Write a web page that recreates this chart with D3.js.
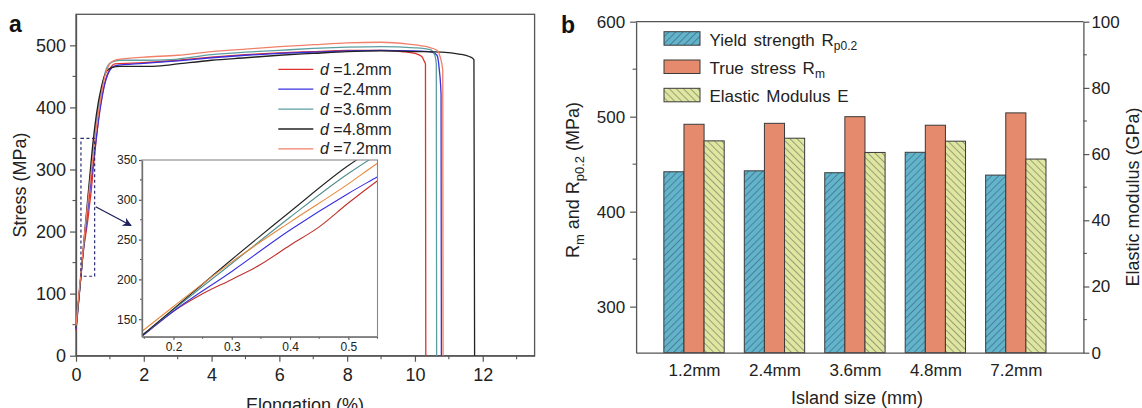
<!DOCTYPE html>
<html>
<head>
<meta charset="utf-8">
<script src="https://cdn.jsdelivr.net/npm/d3@7"></script>
<style>
  body { margin: 0; background: #fff; }
  svg { display: block; font-family: "Liberation Sans", Arial, sans-serif; }
</style>
</head>
<body>
<div id="chart"></div>
<script>
// stress-strain curves, [elongation %, stress MPa]
var sizes = ["1.2", "2.4", "3.6", "4.8", "7.2"];
var curve12 = [[0,40],[0.15,131],[0.2,160],[0.25,182],[0.3,200],[0.35,219],[0.4,243],[0.45,266],[0.5,296],[0.55,324],[0.7,395],[0.85,440],[1.0,462],[1.15,470],[2,472],[3,476],[4,481],[5,485],[6,488],[7,490],[8,492],[9,492],[9.6,490],[10.0,487],[10.2,482],[10.27,475],[10.31,470],[10.32,0]];
var curve24 = [[0,42],[0.15,131],[0.2,160],[0.3,210],[0.4,262],[0.5,308],[0.55,329],[0.7,393],[0.85,438],[1.0,460],[1.15,467],[2,471],[3,475],[4,480],[5,484],[6,487],[7,489],[8,491],[9,492],[10,491],[10.5,489],[10.65,484],[10.72,460],[10.77,420],[10.78,0]];
var curve36 = [[0,45],[0.15,132],[0.2,162],[0.3,220],[0.4,278],[0.5,333],[0.6,378],[0.75,428],[0.9,463],[1.05,473],[1.3,476],[2,476],[2.8,477],[4,485],[5,489],[6,492],[7,495],[8,497],[9,498],[10,496],[10.45,493],[10.58,485],[10.63,470],[10.64,0]];
var curve48 = [[0,45],[0.15,132],[0.2,163],[0.3,225],[0.4,285],[0.5,343],[0.6,388],[0.75,433],[0.9,458],[1.05,464],[1.3,466],[2,466],[2.5,467],[3,470],[4,476],[5,480],[6,484],[7,487],[8,490],[9,491],[10,490],[10.8,489],[11.3,486],[11.6,482],[11.74,477],[11.76,0]];
var curve72 = [[0,48],[0.15,137],[0.2,166],[0.3,222],[0.4,272],[0.5,320],[0.55,346],[0.7,405],[0.85,450],[1.0,470],[1.2,477],[2,481],[3,484],[4,490],[5,494],[6,498],[7,501],[8,504],[9,505],[9.8,502],[10.4,497],[10.65,492],[10.75,480],[10.82,460],[10.83,0]];
var curves = [curve12, curve24, curve36, curve48, curve72];
var curveColors = ["#e0322c", "#3a30e0", "#5c9fa0", "#222222", "#f0806a"];
var insetColors = ["#c0312c", "#3a30e0", "#4f8f90", "#222222", "#e8883a"];

var stressTicks = [0, 100, 200, 300, 400, 500];
var elongTicks = [0, 2, 4, 6, 8, 10, 12];
var insetYTicks = [150, 200, 250, 300, 350];
var insetXTicks = [0.2, 0.3, 0.4, 0.5];

// panel b
var islands = ["1.2mm", "2.4mm", "3.6mm", "4.8mm", "7.2mm"];
var yieldStrength = [442, 443, 441, 462.5, 438.5];
var trueStress = [492, 493, 500, 491, 504];
var elasticModulus = [64.0, 64.8, 60.5, 63.9, 58.5];
var mpaTicks = [300, 400, 500, 600];
var gpaTicks = [0, 20, 40, 60, 80, 100];

((() => {
  var svg = d3.select("#chart").append("svg")
    .attr("width", 1142)
    .attr("height", 408);

  var axisColor = "#555";

  // hatch patterns
  var defs = svg.append("defs");
  function hatch(id, fill, angle) {
    var p = defs.append("pattern")
      .attr("id", id)
      .attr("patternUnits", "userSpaceOnUse")
      .attr("width", 5).attr("height", 5)
      .attr("patternTransform", "rotate(" + angle + ")");
    p.append("rect").attr("width", 5).attr("height", 5).attr("fill", fill);
    p.append("line").attr("x1", 0).attr("y1", 0).attr("x2", 0).attr("y2", 5)
      .attr("stroke", "#2b3438").attr("stroke-width", 0.8);
  }
  hatch("hatchBlue", "#62b4cd", 45);
  hatch("hatchYellow", "#dfe6a0", -45);

  function styleAxis(g, size) {
    g.selectAll("path").attr("stroke", axisColor).attr("stroke-width", 1.3);
    g.selectAll("line").attr("stroke", axisColor).attr("stroke-width", 1.2);
    g.selectAll("text").attr("font-size", size).attr("fill", "#222")
      .attr("font-family", "Liberation Sans, Arial, sans-serif");
  }
  function minor(g, vals, scale, horizontal, len) {
    g.selectAll(null).data(vals).enter().append("line")
      .attr("x1", d => horizontal ? scale(d) : 0)
      .attr("x2", d => horizontal ? scale(d) : len)
      .attr("y1", d => horizontal ? 0 : scale(d))
      .attr("y2", d => horizontal ? len : scale(d))
      .attr("stroke", axisColor).attr("stroke-width", 1.1);
  }

  // ---------- panel a ----------
  var xA = d3.scaleLinear().domain([0, 13.53]).range([76, 534.6]);
  var yA = d3.scaleLinear().domain([0, 550]).range([355.7, 14.3]);

  var gx = svg.append("g").attr("transform", "translate(0," + yA(0) + ")")
    .call(d3.axisBottom(xA).tickValues(elongTicks).tickSize(6).tickPadding(7).tickSizeOuter(0));
  styleAxis(gx, 18);
  minor(gx, [1, 3, 5, 7, 9, 11, 13], xA, true, 3.5);

  var gy = svg.append("g").attr("transform", "translate(" + xA(0) + ",0)")
    .call(d3.axisLeft(yA).tickValues(stressTicks).tickSize(6).tickPadding(4).tickSizeOuter(0));
  styleAxis(gy, 18);
  minor(gy, [50, 150, 250, 350, 450], yA, false, -3.5);

  svg.append("rect")
    .attr("x", xA(0)).attr("y", yA(550))
    .attr("width", xA(13.53) - xA(0)).attr("height", yA(0) - yA(550))
    .attr("fill", "none").attr("stroke", axisColor).attr("stroke-width", 1.3);

  var lineA = d3.line().x(d => xA(d[0])).y(d => yA(d[1])).curve(d3.curveMonotoneX);
  svg.append("g").selectAll("path").data(curves).enter().append("path")
    .attr("d", lineA)
    .attr("fill", "none")
    .attr("stroke", (d, i) => curveColors[i])
    .attr("stroke-width", 1.3);

  // legend a
  var legA = svg.append("g");
  sizes.forEach(function(s, i) {
    var y = 69.3 + i * 19.9;
    legA.append("line").attr("x1", 278.3).attr("x2", 313.3).attr("y1", y).attr("y2", y)
      .attr("stroke", curveColors[i]).attr("stroke-width", 1.3);
    var t = legA.append("text").attr("x", 320).attr("y", y + 5.5)
      .attr("font-size", 16).attr("fill", "#222");
    t.append("tspan").attr("font-style", "italic").text("d");
    t.append("tspan").text(" =" + s + "mm");
  });

  // inset
  var xI = d3.scaleLinear().domain([0.146, 0.55]).range([142, 377.5]);
  var yI = d3.scaleLinear().domain([128, 350]).range([336.7, 160]);

  // dashed box on main plot
  svg.append("rect")
    .attr("x", xA(0.146)).attr("y", yA(350))
    .attr("width", xA(0.55) - xA(0.146)).attr("height", yA(128) - yA(350))
    .attr("fill", "none").attr("stroke", "#2c2c70").attr("stroke-width", 1.2)
    .attr("stroke-dasharray", "3,2.5");

  // arrow
  defs.append("marker").attr("id", "arrow")
    .attr("viewBox", "0 0 10 10").attr("refX", 9).attr("refY", 5)
    .attr("markerWidth", 9).attr("markerHeight", 9).attr("markerUnits", "userSpaceOnUse")
    .attr("orient", "auto")
    .append("path").attr("d", "M0,0 L10,5 L0,10 L3,5 Z").attr("fill", "#1c2258");
  svg.append("line")
    .attr("x1", xA(0.55) + 1).attr("y1", yA(240))
    .attr("x2", 131).attr("y2", 225.5)
    .attr("stroke", "#1c2258").attr("stroke-width", 1.3)
    .attr("marker-end", "url(#arrow)");

  svg.append("rect")
    .attr("x", xI.range()[0]).attr("y", yI.range()[1])
    .attr("width", xI.range()[1] - xI.range()[0]).attr("height", yI.range()[0] - yI.range()[1])
    .attr("fill", "#fff");

  defs.append("clipPath").attr("id", "insetClip").append("rect")
    .attr("x", xI.range()[0]).attr("y", yI.range()[1])
    .attr("width", xI.range()[1] - xI.range()[0]).attr("height", yI.range()[0] - yI.range()[1]);

  var lineI = d3.line().x(d => xI(d[0])).y(d => yI(d[1])).curve(d3.curveMonotoneX);
  svg.append("g").attr("clip-path", "url(#insetClip)")
    .selectAll("path").data(curves).enter().append("path")
    .attr("d", d => lineI(d.filter(p => p[0] <= 0.75)))
    .attr("fill", "none")
    .attr("stroke", (d, i) => insetColors[i])
    .attr("stroke-width", 1.1);

  var gix = svg.append("g").attr("transform", "translate(0," + yI.range()[0] + ")")
    .call(d3.axisBottom(xI).tickValues(insetXTicks).tickFormat(d3.format(".1f")).tickSize(3).tickPadding(3).tickSizeOuter(0));
  styleAxis(gix, 12);
  minor(gix, [0.15, 0.25, 0.35, 0.45, 0.55], xI, true, 2);
  var giy = svg.append("g").attr("transform", "translate(" + xI.range()[0] + ",0)")
    .call(d3.axisLeft(yI).tickValues(insetYTicks).tickSize(3).tickPadding(2).tickSizeOuter(0));
  styleAxis(giy, 12);
  minor(giy, [175, 225, 275, 325], yI, false, -2);
  svg.append("rect")
    .attr("x", xI.range()[0]).attr("y", yI.range()[1])
    .attr("width", xI.range()[1] - xI.range()[0]).attr("height", yI.range()[0] - yI.range()[1])
    .attr("fill", "none").attr("stroke", "#888").attr("stroke-width", 1.1);

  svg.append("text").attr("x", 9).attr("y", 32).attr("font-size", 23)
    .attr("font-weight", "bold").attr("fill", "#111").text("a");
  svg.append("text").attr("transform", "translate(26,185) rotate(-90)")
    .attr("text-anchor", "middle").attr("font-size", 18).attr("fill", "#222")
    .text("Stress (MPa)");
  // the reference crops this label at the bottom edge
  svg.append("text").attr("x", 305).attr("y", 411)
    .attr("text-anchor", "middle").attr("font-size", 18).attr("fill", "#222")
    .text("Elongation (%)");

  // ---------- panel b ----------
  var xB = d3.scaleLinear().domain([0.28, 5.84]).range([636.1, 1083.4]);
  var yB = d3.scaleLinear().domain([251.5, 600]).range([352.7, 21.7]);
  var yE = d3.scaleLinear().domain([0, 100]).range([352.7, 21.7]);
  var barW = xB(1.25) - xB(1);

  var bars = svg.append("g");
  islands.forEach(function(name, i) {
    var c = xB(i + 1);
    bars.append("rect").attr("x", c - 1.5 * barW).attr("y", yB(yieldStrength[i]))
      .attr("width", barW).attr("height", yB(251.5) - yB(yieldStrength[i]))
      .attr("fill", "url(#hatchBlue)").attr("stroke", "#3a3a3a").attr("stroke-width", 1);
    bars.append("rect").attr("x", c - 0.5 * barW).attr("y", yB(trueStress[i]))
      .attr("width", barW).attr("height", yB(251.5) - yB(trueStress[i]))
      .attr("fill", "#e68a6d").attr("stroke", "#3a3a3a").attr("stroke-width", 1);
    bars.append("rect").attr("x", c + 0.5 * barW).attr("y", yE(elasticModulus[i]))
      .attr("width", barW).attr("height", yE(0) - yE(elasticModulus[i]))
      .attr("fill", "url(#hatchYellow)").attr("stroke", "#3a3a3a").attr("stroke-width", 1);
  });

  var gbx = svg.append("g").attr("transform", "translate(0," + yB(251.5) + ")")
    .call(d3.axisBottom(xB).tickValues([1, 2, 3, 4, 5]).tickFormat((d, i) => islands[i])
      .tickSize(0).tickPadding(11).tickSizeOuter(0));
  styleAxis(gbx, 17);

  var gby = svg.append("g").attr("transform", "translate(" + xB(0.28) + ",0)")
    .call(d3.axisLeft(yB).tickValues(mpaTicks).tickSize(6).tickPadding(5).tickSizeOuter(0));
  styleAxis(gby, 17);
  minor(gby, [350, 450, 550], yB, false, -3.5);

  var gbe = svg.append("g").attr("transform", "translate(" + xB(5.84) + ",0)")
    .call(d3.axisRight(yE).tickValues(gpaTicks).tickSize(6).tickPadding(2).tickSizeOuter(0));
  styleAxis(gbe, 17);
  minor(gbe, [10, 30, 50, 70, 90], yE, false, 3.5);

  svg.append("line").attr("x1", xB(0.28)).attr("x2", xB(5.84))
    .attr("y1", yB(600)).attr("y2", yB(600))
    .attr("stroke", axisColor).attr("stroke-width", 1.3);

  // legend b
  var legB = svg.append("g");
  var legItems = [
    { fill: "url(#hatchBlue)", main: "Yield strength R", sub: "p0.2" },
    { fill: "#e68a6d", main: "True stress R", sub: "m" },
    { fill: "url(#hatchYellow)", main: "Elastic Modulus E", sub: "" }
  ];
  legItems.forEach(function(d, i) {
    var y = 31.7 + i * 28.3;
    legB.append("rect").attr("x", 664).attr("y", y).attr("width", 36).attr("height", 13.5)
      .attr("fill", d.fill).attr("stroke", "#3a3a3a").attr("stroke-width", 1);
    var t = legB.append("text").attr("x", 709.5).attr("y", y + 13.8)
      .attr("font-size", 17).attr("fill", "#222").attr("word-spacing", 2);
    t.append("tspan").text(d.main);
    if (d.sub) t.append("tspan").attr("dy", 4.5).attr("font-size", 12).text(d.sub);
  });

  svg.append("text").attr("x", 561).attr("y", 33).attr("font-size", 23)
    .attr("font-weight", "bold").attr("fill", "#111").text("b");

  var ly = svg.append("text").attr("transform", "translate(579,180) rotate(-90)")
    .attr("text-anchor", "middle").attr("font-size", 18).attr("fill", "#222");
  ly.append("tspan").text("R");
  ly.append("tspan").attr("dy", 4.5).attr("font-size", 13).text("m");
  ly.append("tspan").attr("dy", -4.5).text(" and R");
  ly.append("tspan").attr("dy", 4.5).attr("font-size", 13).text("p0.2");
  ly.append("tspan").attr("dy", -4.5).text(" (MPa)");

  svg.append("text").attr("transform", "translate(1139,197) rotate(-90)")
    .attr("text-anchor", "middle").attr("font-size", 18).attr("fill", "#222")
    .text("Elastic modulus  (GPa)");

  svg.append("text").attr("x", 857).attr("y", 404)
    .attr("text-anchor", "middle").attr("font-size", 18).attr("fill", "#222")
    .text("Island size (mm)");
})());
</script>
</body>
</html>
